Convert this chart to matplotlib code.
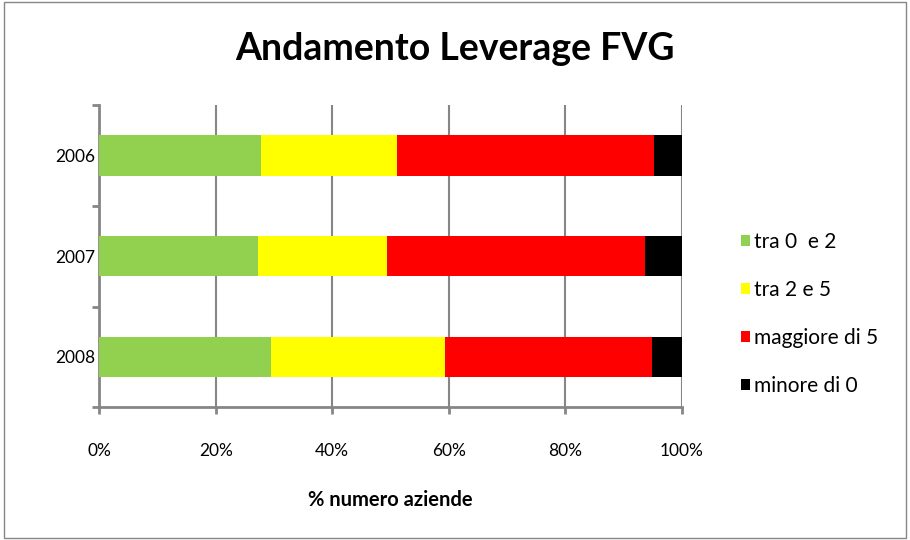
import matplotlib
matplotlib.use('Agg')
import numpy as np
import matplotlib.pyplot as plt
from matplotlib.patches import Rectangle
from matplotlib.ticker import PercentFormatter, FixedLocator

# Data (share of companies, %)
years = ['2006', '2007', '2008']
tra_0_e_2 = [27.7, 27.2, 29.5]
tra_2_e_5 = [23.5, 22.2, 29.8]
maggiore_di_5 = [44.1, 44.4, 35.7]
minore_di_0 = [4.7, 6.2, 5.0]

series = [
    ('tra 0  e 2', tra_0_e_2, '#92d050'),
    ('tra 2 e 5', tra_2_e_5, '#ffff00'),
    ('maggiore di 5', maggiore_di_5, '#ff0000'),
    ('minore di 0', minore_di_0, '#000000'),
]

plt.rcParams['font.family'] = ['Lato', 'DejaVu Sans']
grey = '#868686'

fig = plt.figure(figsize=(9.1, 5.4), dpi=100)
ax = fig.add_axes([0.109, 0.246, 0.640, 0.559])

# top bar first: 2006 at the top
ypos = np.arange(len(years))[::-1]
left = np.zeros(len(years))
for label, vals, color in series:
    vals = np.array(vals)
    ax.barh(ypos, vals, left=left, height=0.4, color=color, label=label, zorder=3)
    left += vals

ax.set_xlim(0, 100)
ax.set_ylim(-0.5, len(years) - 0.5)
ax.set_xticks(np.arange(0, 101, 20))
ax.xaxis.set_major_formatter(PercentFormatter(decimals=0))
ax.set_yticks(ypos)
ax.set_yticklabels(years)
ax.yaxis.set_minor_locator(FixedLocator(np.arange(-0.5, len(years), 1.0)))

ax.tick_params(axis='y', which='major', length=0, pad=3, labelsize=12.5)
ax.tick_params(axis='y', which='minor', length=5, width=2, color=grey, direction='out')
ax.tick_params(axis='x', which='major', length=5, width=2, color=grey, direction='out',
               pad=21, labelsize=12.5)

for s in ['top', 'right']:
    ax.spines[s].set_visible(False)
for s in ['left', 'bottom']:
    ax.spines[s].set_color(grey)
    ax.spines[s].set_linewidth(2)

ax.grid(axis='x', color=grey, linewidth=1.5, zorder=0)
ax.set_axisbelow(True)

ax.set_xlabel('% numero aziende', fontsize=14.5, fontweight='bold', labelpad=22)
fig.text(0.5, 0.91, 'Andamento Leverage FVG', ha='center', va='center',
         fontsize=27, fontweight='bold')

ax.legend(loc='center left', bbox_to_anchor=(0.814, 0.419), bbox_transform=fig.transFigure,
          frameon=False, fontsize=15, handlelength=0.45, handleheight=0.45,
          handletextpad=0.2, labelspacing=1.35, borderpad=0, borderaxespad=0)

fig.patches.append(Rectangle((0.004, 0.004), 0.992, 0.992, transform=fig.transFigure,
                             fill=False, edgecolor=grey, linewidth=1))

plt.savefig('out.png', dpi=100)
